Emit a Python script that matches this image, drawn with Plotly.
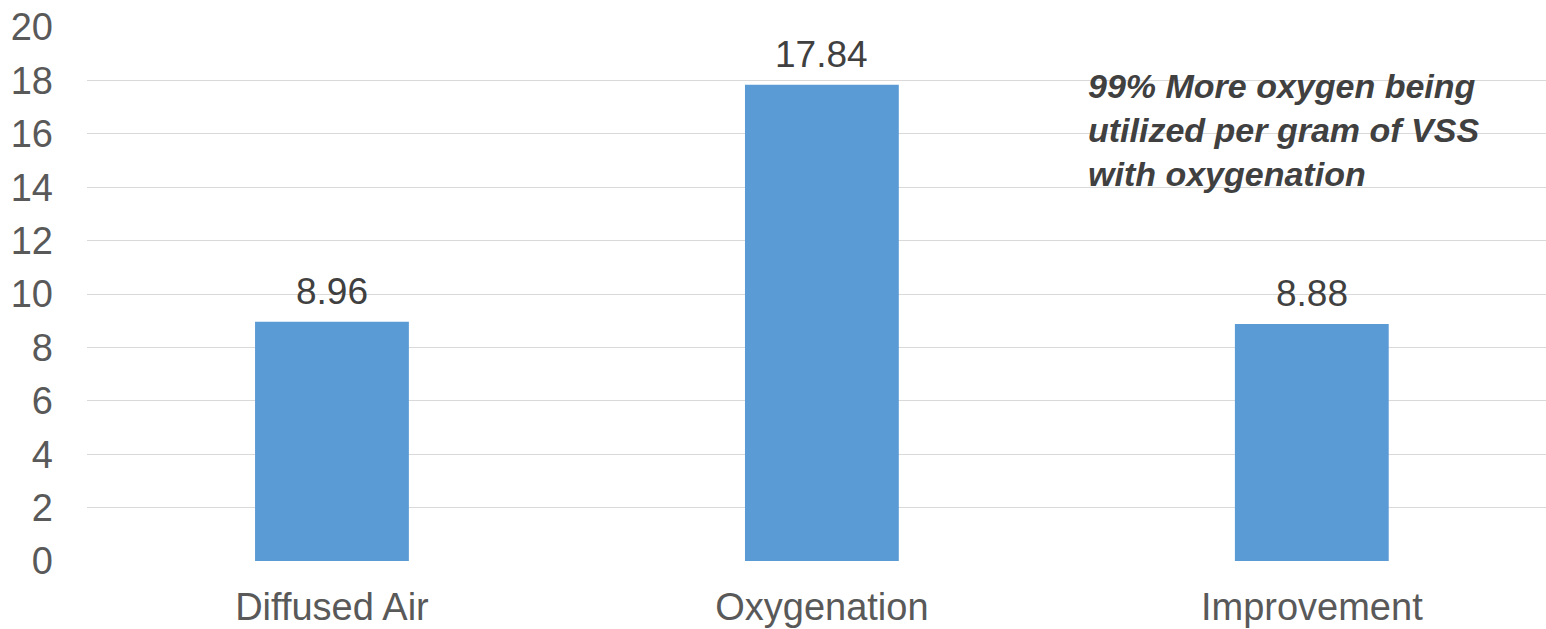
import plotly.graph_objects as go

categories = ["Diffused Air", "Oxygenation", "Improvement"]
values = [8.96, 17.84, 8.88]
value_labels = ["8.96", "17.84", "8.88"]
y_ticks = [0, 2, 4, 6, 8, 10, 12, 14, 16, 18, 20]
note_text = "99% More oxygen being<br>utilized per gram of VSS<br>with oxygenation"

FONT = "Liberation Sans, Arial, sans-serif"

fig = go.Figure()
fig.add_trace(go.Bar(
    x=categories, y=values,
    marker=dict(color="#5B9BD5", line=dict(width=0)),
    width=0.314,
    hoverinfo="skip",
))

for c, v, t in zip(categories, values, value_labels):
    fig.add_annotation(x=c, y=v, text=t, showarrow=False, xref="x", yref="y",
                       yanchor="bottom", yshift=8,
                       font=dict(family=FONT, size=37, color="#404040"))

fig.add_annotation(xref="paper", yref="y", x=0.685, y=16.15, xanchor="left", yanchor="middle",
                   align="left", showarrow=False, text="<b><i>" + note_text + "</i></b>",
                   font=dict(family=FONT, size=34, color="#404040"))

fig.update_layout(
    width=1546, height=629,
    margin=dict(l=87, r=0, t=27, b=68),
    paper_bgcolor="white", plot_bgcolor="white",
    showlegend=False,
    font=dict(family=FONT, color="#595959"),
    xaxis=dict(range=[-0.5, 2.478], showgrid=False, showline=False, zeroline=False,
               ticks="", tickfont=dict(size=38, color="#595959"), ticklabelstandoff=20),
    yaxis=dict(range=[0, 20], tickvals=y_ticks, showgrid=True, gridcolor="#D9D9D9", gridwidth=1.3,
               zeroline=False, showline=False, ticks="",
               tickfont=dict(size=38, color="#595959"), ticklabelstandoff=33),
)

fig.write_html("out.html")
